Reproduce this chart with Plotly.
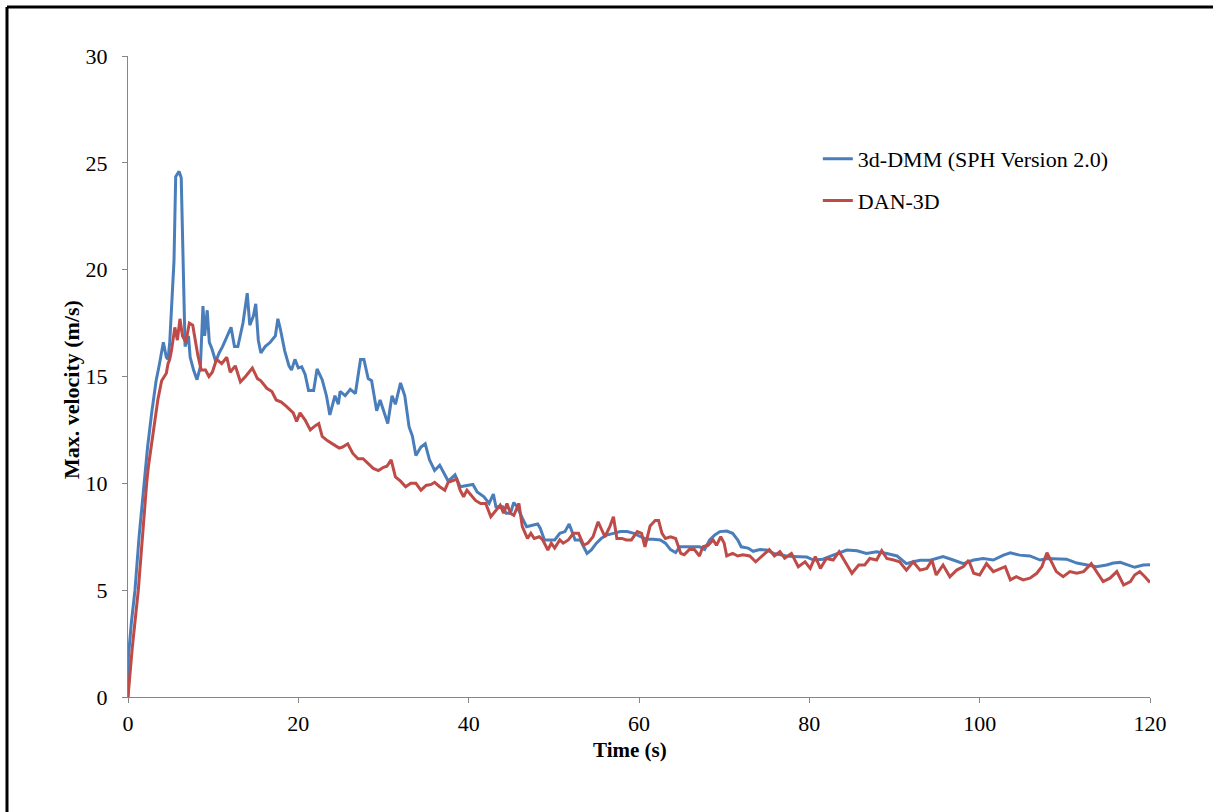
import plotly.graph_objects as go

# Maximum velocity histories of the two run-out models
t_dmm = [0, 0.05, 0.4, 0.82, 1.3, 1.88, 2.3, 2.78, 3.3, 3.7, 4.15, 4.5, 4.7, 4.9,
         5.4, 5.6, 6.0, 6.25, 6.5, 6.7, 7.1, 7.3, 7.7, 8.1, 8.5, 8.8, 9.0, 9.3, 9.55,
         9.85, 10.3, 10.7, 11.1, 11.7, 12.1, 12.5, 12.9, 13.5, 14.0, 14.3, 14.7, 15.0,
         15.3, 15.6, 16.1, 16.7, 17.3, 17.6, 17.9, 18.4, 18.9, 19.2, 19.6, 20.0, 20.4,
         20.8, 21.2, 21.8, 22.2, 22.8, 23.3, 23.7, 24.3, 24.7, 24.9, 25.5, 26.1, 26.7,
         27.3, 27.7, 28.2, 28.6, 29.2, 29.6, 30.0, 30.5, 31.0, 31.4, 32.0, 32.5, 33.0,
         33.4, 33.8, 34.4, 34.9, 35.4, 36.0, 36.6, 37.2, 37.6, 38.4, 39.0, 39.8, 40.5,
         41.0, 41.8, 42.4, 42.9, 43.2, 44.0, 44.4, 44.9, 45.3, 45.7, 46.3, 46.8, 47.6,
         48.1, 48.4, 48.9, 49.5, 50.1, 50.7, 51.3, 51.8, 52.1, 52.5, 53.1, 53.5, 53.9,
         54.4, 55.0, 55.6, 56.2, 57.0, 57.8, 58.6, 59.4, 60.2, 60.9, 61.7, 62.5, 63.1,
         63.7, 64.3, 64.8, 65.6, 66.4, 67.1, 67.7, 68.3, 68.9, 69.5, 70.3, 71.0, 71.6,
         72.0, 72.8, 73.4, 74.2, 75.0, 75.8, 76.5, 77.3, 78.1, 79.7, 80.5, 81.6, 82.8,
         84.4, 85.6, 86.7, 87.9, 89.1, 90.3, 91.4, 92.2, 93.0, 94.2, 95.7, 96.9, 98.1,
         99.3, 100.4, 101.6, 102.8, 103.6, 104.7, 105.9, 107.1, 107.9, 109.0, 110.2,
         111.4, 112.6, 113.7, 114.9, 115.7, 116.5, 117.3, 118.2, 119.2, 120.0]
v_dmm = [0, 1.9, 3.5, 5.0, 7.5, 10.0, 11.7, 13.3, 14.8, 15.6, 16.6, 15.9, 15.8, 16.6,
         20.4, 24.35, 24.6, 24.3, 20.4, 16.4, 16.9, 15.9, 15.3, 14.85, 15.45, 18.3, 16.9,
         18.1, 16.6, 16.3, 15.7, 16.1, 16.4, 16.9, 17.3, 16.4, 16.4, 17.5, 18.9, 17.4,
         17.8, 18.4, 16.7, 16.1, 16.4, 16.6, 16.9, 17.7, 17.2, 16.2, 15.5, 15.3, 15.8,
         15.4, 15.45, 15.1, 14.35, 14.35, 15.35, 14.85, 14.1, 13.2, 14.1, 13.7, 14.3,
         14.1, 14.4, 14.2, 15.8, 15.8, 14.9, 14.8, 13.4, 13.9, 13.4, 12.8, 14.1, 13.7,
         14.7, 14.1, 12.65, 12.2, 11.3, 11.7, 11.85, 11.1, 10.6, 10.85, 10.4, 10.1, 10.4,
         9.84, 9.9, 9.95, 9.6, 9.37, 9.06, 9.5, 8.9, 8.9, 8.6, 8.6, 9.1, 8.9, 8.37, 7.97,
         8.05, 8.1, 7.9, 7.35, 7.35, 7.35, 7.66, 7.74, 8.1, 7.74, 7.35, 7.35, 7.03, 6.72,
         6.88, 7.2, 7.43, 7.58, 7.66, 7.74, 7.74, 7.66, 7.5, 7.38, 7.38, 7.35, 7.2, 6.9,
         6.76, 7.03, 7.03, 7.03, 7.03, 6.9, 7.35, 7.58, 7.74, 7.77, 7.66, 7.35, 7.03,
         6.97, 6.82, 6.9, 6.88, 6.72, 6.66, 6.6, 6.57, 6.55, 6.41, 6.45, 6.64, 6.88,
         6.84, 6.72, 6.8, 6.72, 6.6, 6.24, 6.33, 6.4, 6.4, 6.57, 6.41, 6.24, 6.41, 6.48,
         6.41, 6.64, 6.75, 6.64, 6.6, 6.41, 6.48, 6.48, 6.45, 6.27, 6.19, 6.1, 6.18, 6.27,
         6.3, 6.18, 6.07, 6.18, 6.19]

t_dan = [0, 0.5, 1.21, 1.6, 1.88, 2.19, 2.4, 2.97, 3.5, 3.95, 4.5, 4.7, 4.9, 5.1, 5.5,
         5.8, 6.1, 6.4, 6.8, 7.2, 7.6, 7.9, 8.2, 8.6, 9.1, 9.5, 9.9, 10.4, 11.0, 11.6,
         12.0, 12.6, 13.2, 13.8, 14.6, 15.2, 15.6, 16.3, 16.9, 17.4, 18.0, 18.6, 19.4,
         19.8, 20.2, 20.8, 21.4, 22.0, 22.4, 22.8, 23.4, 24.2, 24.8, 25.2, 25.8, 26.4,
         27.0, 27.6, 28.2, 28.8, 29.4, 30.0, 30.4, 30.9, 31.4, 32.0, 32.6, 33.2, 33.8,
         34.4, 35.0, 35.6, 36.0, 36.6, 37.2, 37.6, 38.0, 38.6, 39.0, 39.4, 39.8, 40.4,
         40.8, 41.4, 42.0, 42.6, 43.2, 43.7, 44.1, 44.5, 44.9, 45.3, 45.9, 46.3, 46.9,
         47.3, 47.7, 48.3, 48.7, 49.3, 49.7, 50.1, 50.7, 51.1, 51.7, 52.3, 52.9, 53.5,
         54.0, 54.6, 55.2, 55.6, 56.0, 56.6, 57.0, 57.4, 58.0, 58.5, 59.1, 59.8, 60.3,
         60.7, 61.3, 61.9, 62.3, 62.7, 63.1, 63.7, 64.3, 64.9, 65.3, 65.9, 66.5, 67.1,
         67.5, 68.1, 68.7, 69.1, 69.6, 70.0, 70.3, 71.0, 71.6, 72.2, 73.0, 73.7, 74.5,
         75.3, 75.9, 76.55, 77.1, 77.9, 78.7, 79.5, 80.1, 80.7, 81.3, 82.0, 82.8, 83.5,
         84.2, 85.0, 85.8, 86.5, 87.1, 87.9, 88.5, 89.1, 89.9, 90.6, 91.4, 92.2, 93.0,
         93.8, 94.4, 94.9, 95.7, 96.5, 97.3, 98.1, 98.7, 99.3, 100.0, 100.8, 101.6,
         102.4, 103.0, 103.6, 104.3, 105.1, 105.9, 106.7, 107.3, 107.9, 108.5, 109.0,
         109.8, 110.6, 111.4, 112.2, 113.1, 113.9, 114.5, 115.3, 116.1, 116.9, 117.7,
         118.2, 118.8, 119.4, 120.0]
v_dan = [0, 2.3, 5.0, 7.0, 8.6, 10.0, 10.8, 12.35, 13.9, 14.8, 15.15, 15.6, 15.8, 16.2,
         17.3, 16.7, 17.7, 16.9, 16.6, 17.5, 17.4, 16.7, 16.0, 15.3, 15.3, 15.0, 15.2,
         15.8, 15.6, 15.9, 15.2, 15.5, 14.75, 15.0, 15.4, 14.9, 14.8, 14.45, 14.3, 13.9,
         13.8, 13.6, 13.3, 12.9, 13.3, 12.96, 12.5, 12.7, 12.8, 12.2, 12.0, 11.8, 11.65,
         11.7, 11.85, 11.4, 11.15, 11.15, 10.9, 10.7, 10.6, 10.75, 10.8, 11.1, 10.3, 10.1,
         9.84, 10.0, 10.0, 9.68, 9.9, 9.95, 10.05, 9.84, 9.68, 10.05, 10.1, 10.2, 9.68,
         9.37, 9.68, 9.37, 9.2, 9.06, 9.06, 8.44, 8.75, 8.98, 8.6, 9.06, 8.6, 8.5, 9.06,
         7.97, 7.42, 7.66, 7.42, 7.5, 7.35, 6.88, 7.2, 6.97, 7.35, 7.2, 7.35, 7.66, 7.66,
         7.1, 7.2, 7.5, 8.2, 7.82, 7.5, 8.0, 8.44, 7.42, 7.42, 7.35, 7.35, 7.74, 7.66,
         7.03, 8.0, 8.26, 8.26, 7.66, 7.42, 7.5, 7.42, 6.72, 6.66, 6.9, 6.9, 6.6, 7.03,
         7.1, 7.35, 7.1, 7.5, 7.2, 6.6, 6.72, 6.6, 6.66, 6.6, 6.33, 6.6, 6.9, 6.6, 6.8,
         6.5, 6.72, 6.1, 6.33, 6.02, 6.57, 6.02, 6.48, 6.41, 6.8, 6.33, 5.79, 6.18, 6.18,
         6.48, 6.41, 6.85, 6.48, 6.41, 6.33, 5.94, 6.33, 5.94, 6.02, 6.4, 5.71, 6.18,
         5.63, 5.94, 6.1, 6.4, 5.79, 5.71, 6.24, 5.87, 6.02, 6.1, 5.48, 5.63, 5.48, 5.56,
         5.79, 6.1, 6.75, 6.24, 5.87, 5.63, 5.87, 5.79, 5.87, 6.24, 5.79, 5.4, 5.56, 5.87,
         5.24, 5.4, 5.71, 5.87, 5.63, 5.36]

x_ticks = [0, 20, 40, 60, 80, 100, 120]
y_ticks = [0, 5, 10, 15, 20, 25, 30]

serif = "Liberation Serif, Times New Roman, serif"
axis_grey = "#868686"

fig = go.Figure()
fig.add_trace(go.Scatter(x=t_dmm, y=v_dmm, mode="lines", name="3d-DMM (SPH Version 2.0)",
                         legendgroup="dmm", line=dict(color="#4A7EBB", width=3)))
fig.add_trace(go.Scatter(x=t_dan, y=v_dan, mode="lines", name="DAN-3D",
                         legendgroup="dan", line=dict(color="#BE4B48", width=3)))

fig.update_layout(
    width=1213, height=812,
    margin=dict(l=128, r=63, t=56, b=115),
    paper_bgcolor="white", plot_bgcolor="white",
    font=dict(family=serif, size=22, color="black"),
    showlegend=True,
    legend=dict(x=0.675, y=0.872, xanchor="left", yanchor="top",
                bgcolor="rgba(0,0,0,0)", tracegroupgap=10,
                font=dict(family=serif, size=22)),
    xaxis=dict(range=[0, 120], tickvals=x_ticks, showgrid=False, zeroline=False,
               showline=True, linecolor=axis_grey, linewidth=1,
               ticks="outside", ticklen=5, tickcolor=axis_grey, ticklabelstandoff=2),
    yaxis=dict(range=[0, 30], tickvals=y_ticks, showgrid=False, zeroline=False,
               showline=True, linecolor=axis_grey, linewidth=1,
               ticks="outside", ticklen=5, tickcolor=axis_grey, ticklabelstandoff=10),
    annotations=[
        dict(text="<b>Time (s)</b>", xref="paper", yref="paper", x=0.491, y=-0.082,
             xanchor="center", yanchor="middle", showarrow=False,
             font=dict(family=serif, size=21)),
        dict(text="<b>Max. velocity (m/s)</b>", xref="paper", yref="paper",
             x=-0.055, y=0.48, xanchor="center", yanchor="middle", textangle=-90,
             showarrow=False, font=dict(family=serif, size=22)),
    ],
    shapes=[
        dict(type="line", xref="paper", yref="paper", x0=-0.1184, x1=-0.1184,
             y0=-0.3, y1=1.0764, line=dict(color="black", width=3)),
        dict(type="line", xref="paper", yref="paper", x0=-0.1184, x1=1.2,
             y0=1.0764, y1=1.0764, line=dict(color="black", width=3)),
    ],
)

fig.write_html("out.html")
